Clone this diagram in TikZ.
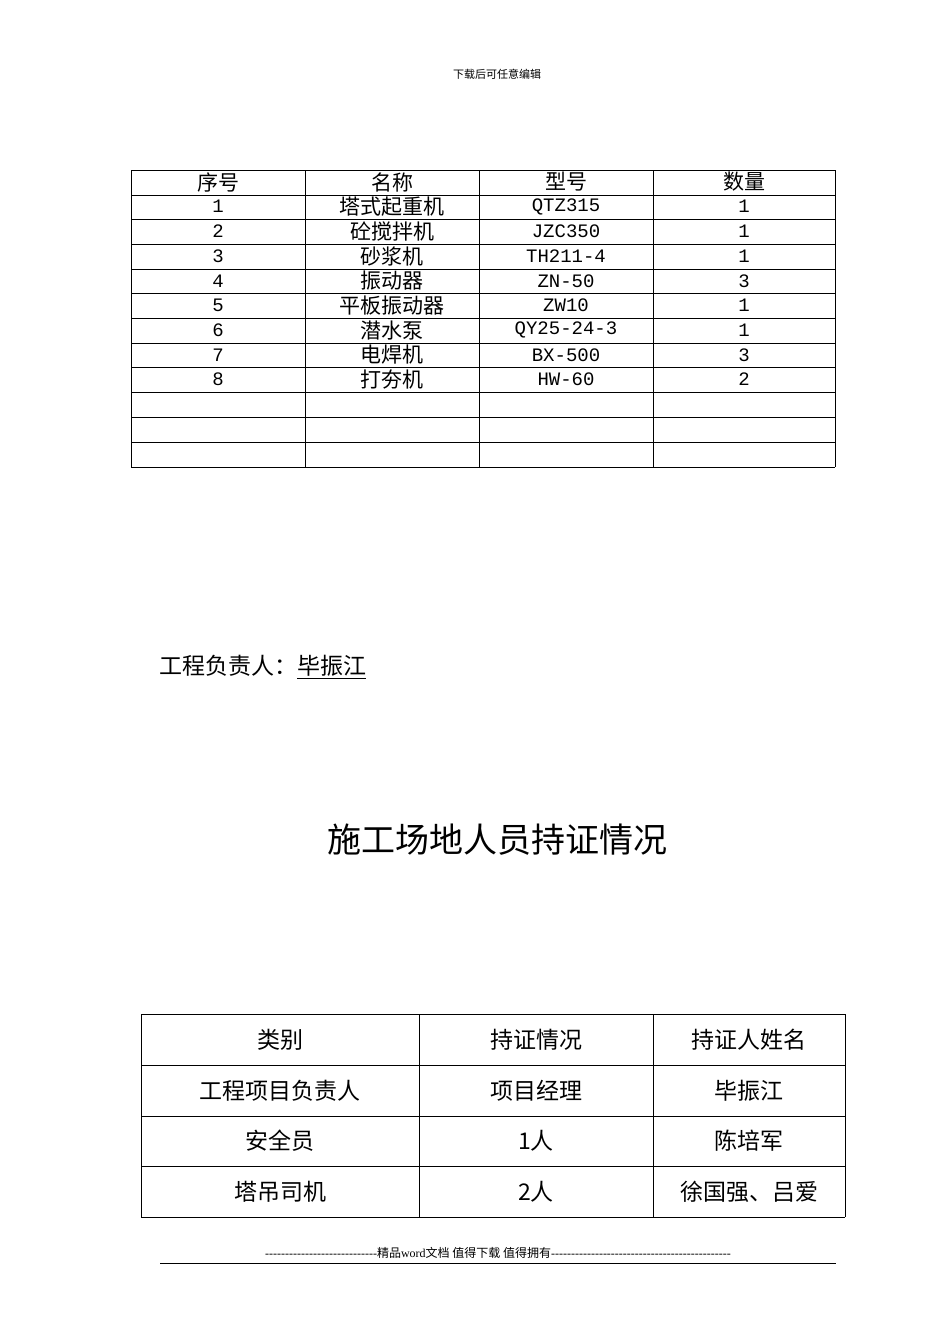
\documentclass[tikz,border=0pt]{standalone}
\usepackage{fontspec}
\setmainfont{Liberation Serif}
\newfontfamily\cjk{Noto Sans CJK SC}
\newfontfamily\mono{Liberation Mono}
\begin{document}
\begin{tikzpicture}[x=1pt,y=-1pt,
  cell/.style={font=\cjk\fontsize{21}{21}\selectfont,inner sep=0pt,anchor=center},
  mcell/.style={font=\mono\fontsize{19}{19}\selectfont,inner sep=0pt,anchor=center},
  bcell/.style={font=\cjk\fontsize{23}{23}\selectfont,inner sep=0pt,anchor=center},
  grid/.style={line width=0.8pt,black}]
\useasboundingbox (0,0) rectangle (950,1344);
\node[font=\cjk\fontsize{11}{11}\selectfont] (hd) at (497,74) {下载后可任意编辑};
% table 1
\foreach \x in {131,305,479,653,835} \draw[grid] (\x,170) -- (\x,467);
\foreach \y in {170,195,219,244,269,293,318,343,367,392,417,442,467} \draw[grid] (131,\y) -- (835,\y);
\node[cell] (h1) at (218,182) {序号};
\node[cell] (h2) at (392,182) {名称};
\node[cell] (h3) at (566,182) {型号};
\node[cell] (h4) at (744,182) {数量};
\foreach \i/\n/\m/\q [count=\k] in {1/塔式起重机/QTZ315/1,2/砼搅拌机/JZC350/1,3/砂浆机/TH211-4/1,4/振动器/ZN-50/3,5/平板振动器/ZW10/1,6/潜水泵/QY25-24-3/1,7/电焊机/BX-500/3,8/打夯机/HW-60/2}{
  \pgfmathsetmacro\yy{182+24.7*\k}
  \node[mcell] (a\k) at (218,\yy) {\i};
  \node[cell] (b\k) at (392,\yy) {\n};
  \node[mcell] (c\k) at (566,\yy) {\m};
  \node[mcell] (d\k) at (744,\yy) {\q};
}
\node[font=\cjk\fontsize{23}{23}\selectfont,anchor=west,inner sep=0pt] (mgr) at (159,667) {工程负责人：\underline{毕振江}};
\node[font=\cjk\fontsize{34}{34}\selectfont,inner sep=0pt] (title) at (497,840) {施工场地人员持证情况};
% table 2
\foreach \x in {141,419,653,845} \draw[grid] (\x,1014) -- (\x,1217);
\foreach \y in {1014,1065,1116,1166,1217} \draw[grid] (141,\y) -- (845,\y);
\node[bcell] (t11) at (280,1040) {类别};
\node[bcell] (t12) at (536,1040) {持证情况};
\node[bcell] (t13) at (749,1040) {持证人姓名};
\node[bcell] (t21) at (280,1091) {工程项目负责人};
\node[bcell] (t22) at (536,1091) {项目经理};
\node[bcell] (t23) at (749,1091) {毕振江};
\node[bcell] (t31) at (280,1141) {安全员};
\node[bcell] (t32) at (536,1141) {1人};
\node[bcell] (t33) at (749,1141) {陈培军};
\node[bcell] (t41) at (280,1192) {塔吊司机};
\node[bcell] (t42) at (536,1192) {2人};
\node[bcell] (t43) at (749,1192) {徐国强、吕爱};
% footer
\node[font=\cjk\fontsize{12}{12}\selectfont,inner sep=0pt] (ft) at (498,1253) {\fontspec{Liberation Serif}-{}-{}-{}-{}-{}-{}-{}-{}-{}-{}-{}-{}-{}-{}-{}-{}-{}-{}-{}-{}-{}-{}-{}-{}-{}-{}-{}-\cjk 精品\fontspec{Liberation Serif}word\cjk 文档 值得下载 值得拥有\fontspec{Liberation Serif}-{}-{}-{}-{}-{}-{}-{}-{}-{}-{}-{}-{}-{}-{}-{}-{}-{}-{}-{}-{}-{}-{}-{}-{}-{}-{}-{}-{}-{}-{}-{}-{}-{}-{}-{}-{}-{}-{}-{}-{}-{}-{}-{}-{}-{}};
\coordinate (fl) at (160,1263); \coordinate (fr) at (836,1263);
\draw[line width=0.8pt] (fl) -- (fr);
\end{tikzpicture}
\end{document}
